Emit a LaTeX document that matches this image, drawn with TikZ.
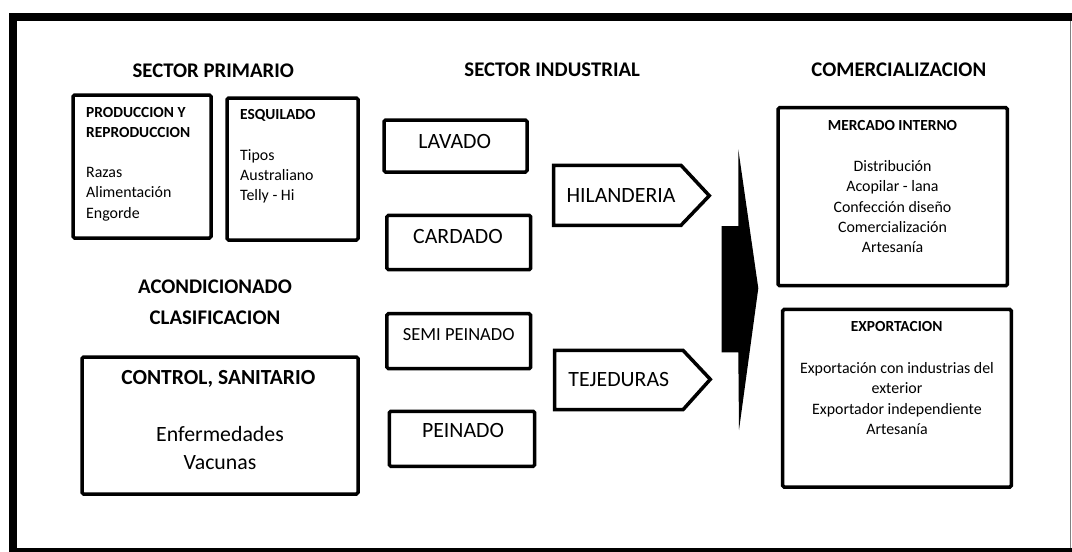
\documentclass[tikz,border=0pt]{standalone}
\usepackage{fontspec}
\setmainfont{Carlito}
\usetikzlibrary{positioning}

\newcommand{\sectfont}{\bfseries\fontsize{20.8}{31}\selectfont}
\newcommand{\headfont}{\bfseries\fontsize{15.4}{20}\selectfont}
\newcommand{\listfont}{\fontsize{15.9}{20.2}\selectfont}
\newcommand{\stagefont}{\fontsize{21.8}{28}\selectfont}

\tikzset{
  box/.style={draw, line width=3.5pt, rounded corners=1.5pt},
  sectitle/.style={anchor=base, inner sep=0pt, font=\sectfont},
  boxhead/.style={inner sep=0pt, font=\headfont},
  boxlist/.style={inner sep=0pt, font=\listfont},
  stage/.style={anchor=base, inner sep=0pt, font=\stagefont}
}

\begin{document}
\begin{tikzpicture}[x=1pt, y=-1pt]
    \useasboundingbox (0,0) rectangle (1072,552);
    % frame
    \draw [line width=8pt] (13,560) -- (13,17) -- (1080,17);
    \draw [line width=5pt] (9,550.5) -- (1080,550.5);
    \draw [gray, line width=1.5pt] (1070.5,21) -- (1070.5,548);

    % sector primario
    \node [sectitle] (prim) at (213.3,77.3) {SECTOR PRIMARIO};
    \node [box, minimum width=138, minimum height=143] (prod) at (142,166.5) {};
    \node [box, minimum width=131, minimum height=142] (esq) at (292.5,169) {};
    \node [boxhead, anchor=north west, align=left] (prodhead) at (86,107.5) {PRODUCCION Y\\REPRODUCCION};
    \node [boxlist, anchor=north west, align=left] (prodlist) at (86,167.3) {Razas\\Alimentación\\Engorde};
    \node [boxhead, anchor=north west] (esqhead) at (240,109.5) {ESQUILADO};
    \node [boxlist, anchor=north west, align=left] (esqlist) at (240,149.3) {Tipos\\Australiano\\Telly - Hi};

    \node [sectitle] (acond) at (215,293.3) {ACONDICIONADO};
    \node [sectitle] (clasif) at (215,324) {CLASIFICACION};
    \node [box, minimum width=276, minimum height=137] (control) at (220,425.5) {};
    \node [sectitle, font=\bfseries\fontsize{21.5}{28}\selectfont] (ctrlhead) at (218.3,384) {CONTROL, SANITARIO};
    \node [stage, anchor=north, align=center] (ctrllist) at (220,426) {Enfermedades\\Vacunas};

    % sector industrial
    \node [sectitle] (indus) at (552.2,76.7) {SECTOR INDUSTRIAL};
    \node [box, minimum width=143, minimum height=52] (lavado) at (455.5,146) {};
    \node [box, minimum width=143.7, minimum height=54.4] (cardado) at (458.8,242.5) {};
    \node [box, minimum width=143.7, minimum height=55] (semi) at (458.8,341.2) {};
    \node [box, minimum width=145.4, minimum height=55] (peinado) at (462,438.8) {};
    \node [stage] (lavadotxt) at (454.7,148.3) {LAVADO};
    \node [stage] (cardadotxt) at (458,243.3) {CARDADO};
    \node [stage, font=\fontsize{18.5}{24}\selectfont] (semitxt) at (458.7,340.7) {SEMI PEINADO};
    \node [stage] (peinadotxt) at (463,437.3) {PEINADO};

    \draw [line width=3.5pt] (553.7,165.3) -- (681,165.3) -- (709.3,195.7) -- (681,225.3) -- (553.7,225.3) -- cycle;
    \draw [line width=3.5pt] (554.7,350.3) -- (683,350.3) -- (710.3,379.3) -- (683,409.7) -- (554.7,409.7) -- cycle;
    \node [stage] (hilan) at (621,202.3) {HILANDERIA};
    \node [stage] (tejed) at (618.8,386.7) {TEJEDURAS};

    % flecha grande
    \fill (721.7,226) -- (738.3,226) -- (738.3,149.3) -- (758.3,288.3) -- (739,430) -- (738.3,352.3) -- (721.7,352.3) -- cycle;

    % comercializacion
    \node [sectitle] (comer) at (898.8,76.7) {COMERCIALIZACION};
    \node [box, minimum width=229.3, minimum height=178] (interno) at (892.7,196.7) {};
    \node [box, minimum width=228.6, minimum height=177.7] (export) at (897,398.2) {};
    \node [boxhead, anchor=base] (internohead) at (892.5,130.7) {MERCADO INTERNO};
    \node [boxlist, anchor=north, align=center] (internolist) at (892.5,160.5) {Distribución\\Acopilar - lana\\Confección diseño\\Comercialización\\Artesanía};
    \node [boxhead, anchor=base] (exporthead) at (896.7,331.7) {EXPORTACION};
    \node [boxlist, anchor=north, align=center] (exportlist) at (897,362.5) {Exportación con industrias del\\exterior\\Exportador independiente\\Artesanía};

\end{tikzpicture}
\end{document}
